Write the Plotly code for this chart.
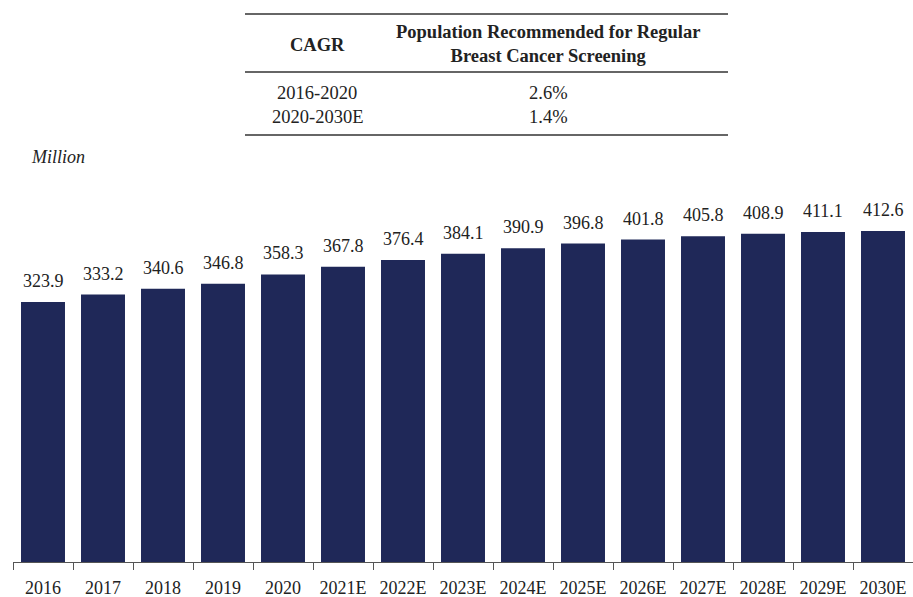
import plotly.graph_objects as go

# Population recommended for regular breast cancer screening, million
years = ["2016", "2017", "2018", "2019", "2020", "2021E", "2022E", "2023E",
         "2024E", "2025E", "2026E", "2027E", "2028E", "2029E", "2030E"]
population = [323.9, 333.2, 340.6, 346.8, 358.3, 367.8, 376.4, 384.1,
              390.9, 396.8, 401.8, 405.8, 408.9, 411.1, 412.6]

# CAGR summary table
cagr_periods = ["2016-2020", "2020-2030E"]
cagr_values = ["2.6%", "1.4%"]
table_header = ["CAGR", "Population Recommended for Regular<br>Breast Cancer Screening"]

W, H = 913, 597
ML, MR, MT, MB = 13, 0, 150, 35
PW, PH = W - ML - MR, H - MT - MB

FONT = "Liberation Serif, Times New Roman, serif"
TEXT = "#222222"
BAR = "#1f2858"
TABLE_SIZE = 18.5


def px(x):
    return (x - ML) / PW


def py(y):
    return (H - MB - y) / PH


fig = go.Figure(go.Bar(
    x=years, y=population, marker=dict(color=BAR, line=dict(width=0)),
    hoverinfo="x+y",
))

annotations = []
# value labels; category axis positions are given by index
for i, v in enumerate(population):
    annotations.append(dict(
        x=i, y=v, xref="x", yref="y", text=f"{v:.1f}", showarrow=False,
        yanchor="bottom", yshift=9, font=dict(family=FONT, size=18, color=TEXT),
    ))

# table text
annotations.append(dict(x=px(317), y=py(45), xref="paper", yref="paper",
                        text=f"<b>{table_header[0]}</b>", showarrow=False,
                        xanchor="center", yanchor="middle",
                        font=dict(family=FONT, size=TABLE_SIZE, color=TEXT)))
annotations.append(dict(x=px(548), y=py(44), xref="paper", yref="paper",
                        text="<b>" + table_header[1].replace("<br>", "</b><br><b>") + "</b>",
                        showarrow=False, xanchor="center", yanchor="middle",
                        font=dict(family=FONT, size=TABLE_SIZE, color=TEXT)))
for i, (p, c) in enumerate(zip(cagr_periods, cagr_values)):
    yy = 93 + i * 23.5
    annotations.append(dict(x=px(317), y=py(yy), xref="paper", yref="paper",
                            text=p, showarrow=False, xanchor="center", yanchor="middle",
                            font=dict(family=FONT, size=TABLE_SIZE, color=TEXT)))
    annotations.append(dict(x=px(548), y=py(yy), xref="paper", yref="paper",
                            text=c, showarrow=False, xanchor="center", yanchor="middle",
                            font=dict(family=FONT, size=TABLE_SIZE, color=TEXT)))

annotations.append(dict(x=px(29), y=py(157), xref="paper", yref="paper",
                        text="<i>Million</i>", showarrow=False,
                        xanchor="left", yanchor="middle",
                        font=dict(family=FONT, size=18, color=TEXT)))

shapes = []
for yl in (14, 72, 135):
    shapes.append(dict(type="line", xref="paper", yref="paper",
                       x0=px(245), x1=px(728), y0=py(yl), y1=py(yl),
                       line=dict(color="#333333", width=1.6)))

fig.update_layout(
    width=W, height=H,
    margin=dict(l=ML, r=MR, t=MT, b=MB),
    paper_bgcolor="white", plot_bgcolor="white",
    bargap=0.267,
    showlegend=False,
    annotations=annotations,
    shapes=shapes,
    xaxis=dict(
        type="category", showline=True, linecolor="#555555", linewidth=1,
        ticks="outside", tickson="boundaries", ticklen=7, tickcolor="#555555",
        tickfont=dict(family=FONT, size=18, color=TEXT), tickangle=0,
        ticklabelstandoff=9, automargin=False,
        range=[-0.5, len(years) - 0.5],
        showgrid=False, zeroline=False,
    ),
    yaxis=dict(range=[0, PH / 0.8025], visible=False, showgrid=False,
               zeroline=False, automargin=False),
)

fig.write_html("out.html")
